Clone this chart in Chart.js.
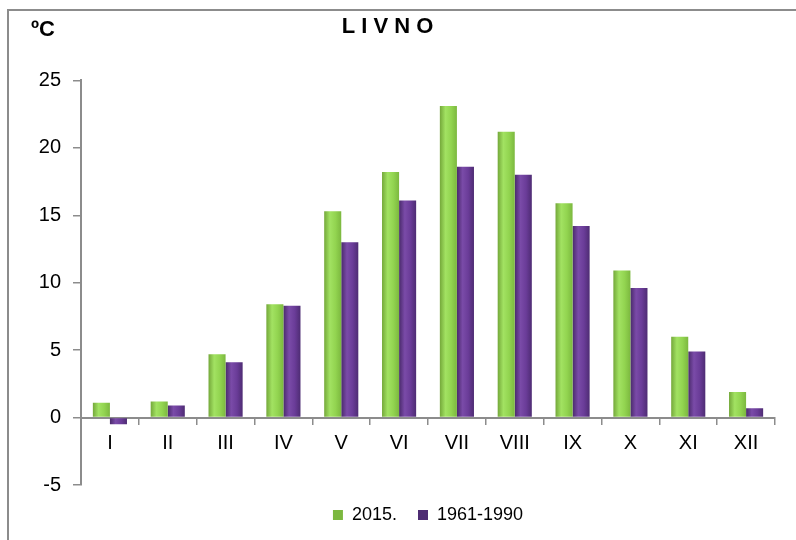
<!DOCTYPE html>
<html>
<head>
<meta charset="utf-8">
<script src="https://cdn.jsdelivr.net/npm/chart.js@4.4.1/dist/chart.umd.min.js"></script>
<style>
    body { margin: 0; background: #fff; }
    .wrap { position: relative; width: 796px; height: 540px; }
    .frame {
        position: absolute; left: 7px; top: 9px; right: 0; bottom: 0;
        border-left: 2px solid #8c8c8c; border-top: 2px solid #8c8c8c;
    }
    canvas { position: absolute; left: 0; top: 0; }
</style>
</head>
<body>
<div class="wrap">
    <div class="frame"></div>
    <canvas id="chart" width="796" height="540"></canvas>
</div>
<script>
const months = ["I", "II", "III", "IV", "V", "VI", "VII", "VIII", "IX", "X", "XI", "XII"];
const temp2015 = [1.1, 1.2, 4.7, 8.4, 15.3, 18.2, 23.1, 21.2, 15.9, 10.9, 6.0, 1.9];
const temp1961_1990 = [-0.5, 0.9, 4.1, 8.3, 13.0, 16.1, 18.6, 18.0, 14.2, 9.6, 4.9, 0.7];
const yTicks = [-5, 0, 5, 10, 15, 20, 25];

const FONT = "'Liberation Sans', Arial, sans-serif";
const CAT_PCT = 0.59;

// cylinder-like shading across each bar
function shaded(stops, fallback, side) {
    return (ctx) => {
        const chart = ctx.chart;
        const x = chart.scales && chart.scales.x;
        if (ctx.dataIndex === undefined || !x || !chart.chartArea) return fallback;
        const center = x.getPixelForValue(ctx.dataIndex);
        const w = (chart.chartArea.width / months.length) * CAT_PCT / 2;
        const left = side < 0 ? center - w : center;
        const g = chart.ctx.createLinearGradient(left, 0, left + w, 0);
        stops.forEach((c, i) => g.addColorStop(i / (stops.length - 1), c));
        return g;
    };
}

const unitLabel = {
    id: "unitLabel",
    afterDraw(chart) {
        const c = chart.ctx;
        c.save();
        c.font = "bold 22px " + FONT;
        c.fillStyle = "#000";
        c.textBaseline = "middle";
        c.fillText("ºC", 31, 30);
        c.restore();
    }
};

new Chart(document.getElementById("chart"), {
    type: "bar",
    data: {
        labels: months,
        datasets: [
            {
                label: "2015.",
                data: temp2015,
                backgroundColor: shaded(["#74a83a", "#a2e262", "#92d450", "#7cb83f"], "#8fcd4c", -1),
            },
            {
                label: "1961-1990",
                data: temp1961_1990,
                backgroundColor: shaded(["#4a2a6c", "#7a4ba8", "#6a3c98", "#4e2c73"], "#5e3a86", 1),
            },
        ],
    },
    options: {
        responsive: false,
        animation: false,
        layout: { padding: { left: 0, right: 21, top: 0, bottom: 6 } },
        datasets: { bar: { barPercentage: 1, categoryPercentage: CAT_PCT } },
        scales: {
            x: {
                position: { y: 0 },
                grid: { drawOnChartArea: false, offset: true, tickLength: 6, color: "#8c8c8c", lineWidth: 1.5 },
                border: { color: "#8c8c8c", width: 2 },
                ticks: { color: "#000", padding: 7.5, font: { family: FONT, size: 20 } },
            },
            y: {
                min: -5,
                max: 25,
                afterBuildTicks: (scale) => { scale.ticks = yTicks.map((v) => ({ value: v })); },
                afterFit: (scale) => { scale.width = 81; },
                grid: { drawOnChartArea: false, tickLength: 8, color: "#8c8c8c", lineWidth: 1.5 },
                border: { color: "#8c8c8c", width: 2 },
                ticks: { color: "#000", padding: 12, font: { family: FONT, size: 20 } },
            },
        },
        plugins: {
            title: {
                display: true,
                text: "L I V N O",
                color: "#000",
                font: { family: FONT, size: 22, weight: "bold" },
                padding: { top: 14, bottom: 40 },
            },
            legend: {
                position: "bottom",
                fullSize: false,
                labels: {
                    boxWidth: 10,
                    boxHeight: 10,
                    padding: 21,
                    color: "#000",
                    font: { family: FONT, size: 18 },
                },
            },
            tooltip: { enabled: false },
        },
    },
    plugins: [unitLabel],
});
</script>
</body>
</html>
